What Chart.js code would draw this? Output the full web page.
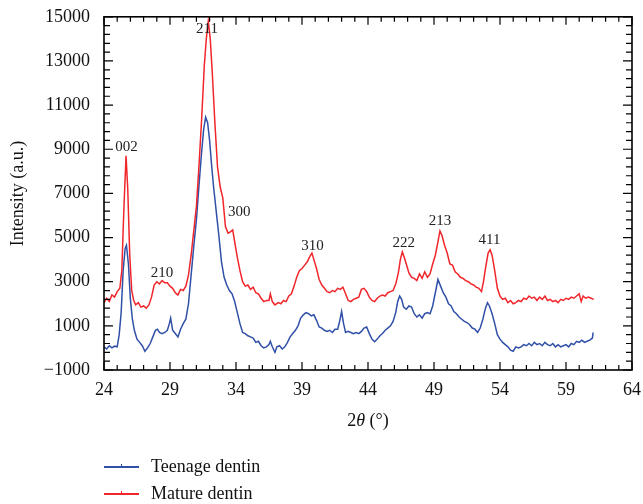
<!DOCTYPE html>
<html>
<head>
<meta charset="utf-8">
<title>XRD dentin</title>
<script src="https://cdn.jsdelivr.net/npm/chart.js@4.4.1/dist/chart.umd.min.js"></script>
<style>
  body { margin: 0; background: #fff; }
  #wrap {
    position: relative; width: 643px; height: 504px;
    font-family: "Liberation Serif", "DejaVu Serif", serif; color: #111;
  }
  #xTitle {
    position: absolute; left: 268px; width: 200px; top: 409px;
    text-align: center; font-size: 18px; line-height: 22px;
  }
  #legend { position: absolute; left: 104px; top: 453px; font-size: 18px; }
  .row { display: flex; align-items: center; height: 27px; }
  .swatch { position: relative; width: 35px; height: 0; border-top: 2.5px solid; margin-right: 12px; }
  .swatch::after {
    content: ''; position: absolute; left: 17px; top: -3.5px;
    width: 1px; height: 4px; background: inherit;
  }
</style>
</head>
<body>
<div id="wrap">
  <canvas id="xrd" width="643" height="504"></canvas>
  <div id="xTitle">2<i>θ</i> (°)</div>
  <div id="legend"></div>
</div>
<script>
// ---------- Data ----------
const SERIES_NAMES  = ['Teenage dentin', 'Mature dentin'];
const SERIES_COLORS = ['#3050a8', '#f0262b'];

const xTicks = [24, 29, 34, 39, 44, 49, 54, 59, 64];
const yTicks = [-1000, 1000, 3000, 5000, 7000, 9000, 11000, 13000, 15000];

const teenX = [
  24.0, 24.2, 24.4, 24.6, 24.8, 25.0, 25.15, 25.3, 25.45, 25.6, 25.7, 25.85, 26.0, 26.15, 26.3,
  26.5, 26.7, 26.9, 27.1, 27.3, 27.5, 27.7, 27.9, 28.05, 28.2, 28.4, 28.6, 28.8, 28.95, 29.05,
  29.2, 29.4, 29.6, 29.8, 30.0, 30.2, 30.4, 30.6, 30.8, 31.0, 31.2, 31.4, 31.55, 31.7, 31.85,
  32.0, 32.15, 32.3, 32.5, 32.7, 32.9, 33.1, 33.3, 33.5, 33.7, 33.9, 34.1, 34.3, 34.5, 34.7,
  34.9, 35.1, 35.3, 35.5, 35.7, 35.9, 36.1, 36.3, 36.5, 36.6, 36.75, 36.95, 37.1, 37.3, 37.5,
  37.7, 37.9, 38.1, 38.3, 38.5, 38.7, 38.9, 39.1, 39.3, 39.5, 39.7, 39.9, 40.1, 40.3, 40.5,
  40.7, 40.9, 41.1, 41.3, 41.5, 41.7, 41.85, 42.0, 42.15, 42.3, 42.5, 42.7, 42.9, 43.1, 43.3,
  43.5, 43.7, 43.9, 44.1, 44.3, 44.5, 44.7, 44.9, 45.1, 45.3, 45.5, 45.7, 45.9, 46.1, 46.25,
  46.4, 46.55, 46.7, 46.9, 47.1, 47.3, 47.5, 47.7, 47.9, 48.1, 48.3, 48.5, 48.7, 48.9, 49.1,
  49.3, 49.5, 49.7, 49.9, 50.1, 50.3, 50.5, 50.7, 50.9, 51.1, 51.3, 51.5, 51.7, 51.9, 52.1,
  52.3, 52.5, 52.7, 52.9, 53.05, 53.2, 53.4, 53.6, 53.8, 54.0, 54.2, 54.4, 54.6, 54.8, 55.0,
  55.2, 55.4, 55.6, 55.8, 56.0, 56.2, 56.4, 56.6, 56.8, 57.0, 57.2, 57.4, 57.6, 57.8, 58.0,
  58.2, 58.4, 58.6, 58.8, 59.0, 59.2, 59.4, 59.6, 59.8, 60.0, 60.2, 60.4, 60.6, 60.8, 61.0,
  61.05
];
const teenY = [
  50, -50, 100, 0, 80, 50, 600, 1600, 3500, 4500, 4650, 3800, 2200, 1300, 800,
  400, 250, 100, -150, 0, 200, 500, 800, 850, 700, 650, 700, 800, 1100, 1350,
  800, 650, 500, 850, 1100, 1300, 2000, 3300, 4600, 5800, 7400, 8900, 9900, 10450, 10200,
  9400, 8300, 7300, 6200, 5100, 3900, 3200, 2850, 2600, 2450, 2100, 1600, 1100, 700, 650,
  550, 500, 450, 250, 300, 100, 0, 50, 150, 300, 50, -200, 50, 100, -50,
  50, 250, 500, 650, 800, 1000, 1350, 1500, 1600, 1550, 1450, 1500, 1250, 950, 900,
  800, 750, 800, 700, 850, 850, 1200, 1650, 1100, 700, 750, 700, 650, 700, 650,
  750, 900, 950, 650, 400, 280, 400, 550, 650, 800, 900, 1000, 1200, 1600, 2100,
  2350, 2200, 1850, 1750, 1900, 1850, 1550, 1400, 1500, 1350, 1550, 1600, 1550, 1900, 2500,
  3100, 2800, 2500, 2300, 2000, 1900, 1650, 1550, 1400, 1300, 1200, 1150, 1050, 900, 850,
  700, 900, 1300, 1800, 2050, 1900, 1550, 1100, 600, 400, 250, 150, 50, -100, -150,
  50, 0, 50, 150, 100, 200, 100, 250, 150, 200, 100, 250, 150, 100, 200,
  50, 150, 50, 100, 150, 50, 200, 150, 300, 250, 350, 250, 300, 350, 450,
  700
];

const matureX = [
  24.0, 24.2, 24.4, 24.6, 24.8, 25.0, 25.2, 25.35, 25.5, 25.67, 25.8, 25.95, 26.1, 26.25, 26.4,
  26.6, 26.8, 27.0, 27.2, 27.4, 27.6, 27.8, 28.0, 28.2, 28.4, 28.6, 28.8, 29.0, 29.2, 29.4,
  29.6, 29.8, 30.0, 30.2, 30.4, 30.6, 30.8, 31.0, 31.2, 31.4, 31.6, 31.75, 31.9, 32.05, 32.2,
  32.4, 32.6, 32.8, 33.0, 33.2, 33.4, 33.55, 33.75, 33.9, 34.1, 34.3, 34.5, 34.7, 34.9, 35.1,
  35.3, 35.5, 35.7, 35.9, 36.1, 36.3, 36.5, 36.6, 36.75, 36.95, 37.2, 37.4, 37.6, 37.8, 38.0,
  38.2, 38.4, 38.6, 38.8, 39.0, 39.2, 39.4, 39.6, 39.75, 39.9, 40.1, 40.3, 40.5, 40.7, 40.9,
  41.1, 41.3, 41.5, 41.7, 41.9, 42.1, 42.3, 42.5, 42.7, 42.9, 43.1, 43.3, 43.5, 43.7, 43.9,
  44.1, 44.3, 44.5, 44.7, 44.9, 45.1, 45.3, 45.5, 45.7, 45.9, 46.1, 46.3, 46.45, 46.6, 46.75,
  46.9, 47.1, 47.3, 47.5, 47.7, 47.9, 48.1, 48.3, 48.5, 48.7, 48.9, 49.1, 49.3, 49.45, 49.6,
  49.8, 50.0, 50.2, 50.4, 50.6, 50.8, 51.0, 51.2, 51.4, 51.6, 51.8, 52.0, 52.2, 52.4, 52.6,
  52.75, 52.9, 53.1, 53.25, 53.4, 53.6, 53.8, 54.0, 54.2, 54.4, 54.6, 54.8, 55.0, 55.2, 55.4,
  55.6, 55.8, 56.0, 56.2, 56.4, 56.6, 56.8, 57.0, 57.2, 57.4, 57.6, 57.8, 58.0, 58.2, 58.4,
  58.6, 58.8, 59.0, 59.2, 59.4, 59.6, 59.8, 60.0, 60.15, 60.3, 60.5, 60.7, 60.9, 61.1
];
const matureY = [
  2050, 2250, 2100, 2400, 2300, 2550, 2700, 3500, 6200, 8700, 7200, 4200, 2600, 2150, 1950,
  2050, 1850, 1900, 1800, 1950, 2300, 2850, 3000, 2900, 3050, 2950, 2950, 2800, 2700, 2500,
  2400, 2650, 2600, 2800, 3300, 4200, 5300, 6400, 8300, 10400, 12800, 14000, 14800, 14000, 12500,
  10200, 8200, 7300, 6800, 5500, 5200, 5250, 5350, 4800, 4100, 3500, 3000, 2800, 2850, 2650,
  2750, 2500, 2450, 2250, 2100, 2150, 2150, 2450, 2100, 1950, 2050, 2000, 2150, 2100, 2350,
  2450, 2800, 3200, 3500, 3600, 3750, 3900, 4150, 4300, 4000, 3600, 3100, 2850, 2700, 2550,
  2500, 2600, 2550, 2700, 2650, 2750, 2450, 2150, 2100, 2200, 2250, 2300, 2650, 2700, 2550,
  2300, 2150, 2100, 2250, 2350, 2400, 2350, 2500, 2550, 2600, 2900, 3400, 4000, 4350, 4100,
  3800, 3400, 3200, 3150, 3050, 3350, 3150, 3450, 3200, 3350, 3800, 4200, 4800, 5300, 5100,
  4650, 4300, 3800, 3750, 3450, 3350, 3200, 3150, 3050, 3000, 2900, 2850, 2750, 2700, 2550,
  3000, 3600, 4300, 4450, 4200, 3500, 2700, 2350, 2200, 2250, 2050, 2150, 2000, 2050, 2150,
  2100, 2250, 2200, 2350, 2250, 2300, 2150, 2300, 2200, 2350, 2150, 2200, 2100, 2150, 2050,
  2200, 2150, 2250, 2200, 2300, 2250, 2350, 2450, 2100, 2350, 2250, 2300, 2250, 2200
];

// Peak (hkl) labels, anchored in data units
const peakLabels = ['002', '210', '211', '300', '310', '222', '213', '411'];
const peakX      = [25.7, 28.4, 31.8, 34.25, 39.8, 46.7, 49.45, 53.2];
const peakY      = [9100, 3400, 14450, 6150, 4600, 4750, 5750, 4900];

// ---------- Helpers ----------
const FONT = '"Liberation Serif", "DejaVu Serif", serif';

function toPoints(xs, ys) {
  return xs.map((x, i) => ({ x, y: ys[i] }));
}

function formatTick(v) {
  return v < 0 ? '\u2212' + Math.abs(v) : String(v);
}

// box frame with inward ticks on all four sides + peak labels
const frameTicks = {
  id: 'frameTicks',
  afterDatasetsDraw(chart) {
    const { ctx, chartArea: a, scales: { x, y } } = chart;
    ctx.save();
    ctx.strokeStyle = '#000';
    ctx.lineWidth = 1.6;
    ctx.strokeRect(a.left, a.top, a.right - a.left, a.bottom - a.top);

    ctx.lineWidth = 1.2;
    ctx.beginPath();
    for (let v = x.min; v <= x.max; v += 1) {
      const px = x.getPixelForValue(v);
      const len = (v - x.min) % 5 === 0 ? 8 : 5;
      ctx.moveTo(px, a.bottom); ctx.lineTo(px, a.bottom - len);
      ctx.moveTo(px, a.top);    ctx.lineTo(px, a.top + len);
    }
    for (let v = y.min; v <= y.max; v += 400) {
      const py = y.getPixelForValue(v);
      const len = (v - y.min) % 2000 === 0 ? 9 : 6;
      ctx.moveTo(a.left, py);  ctx.lineTo(a.left + len, py);
      ctx.moveTo(a.right, py); ctx.lineTo(a.right - len, py);
    }
    ctx.stroke();

    ctx.font = '15px ' + FONT;
    ctx.fillStyle = '#222';
    ctx.textAlign = 'center';
    ctx.textBaseline = 'middle';
    peakLabels.forEach((t, i) => {
      ctx.fillText(t, x.getPixelForValue(peakX[i]), y.getPixelForValue(peakY[i]));
    });
    ctx.restore();
  },
};

// ---------- Chart ----------
const ctx = document.getElementById('xrd').getContext('2d');

new Chart(ctx, {
  type: 'line',
  data: {
    datasets: [
      {
        label: SERIES_NAMES[0],
        data: toPoints(teenX, teenY),
        borderColor: SERIES_COLORS[0],
        borderWidth: 1.5,
        pointRadius: 0,
        order: 1,
      },
      {
        label: SERIES_NAMES[1],
        data: toPoints(matureX, matureY),
        borderColor: SERIES_COLORS[1],
        borderWidth: 1.5,
        pointRadius: 0,
        order: 0,
      },
    ],
  },
  options: {
    responsive: false,
    animation: false,
    devicePixelRatio: 1,
    layout: { padding: { top: 16, right: 11, left: 0, bottom: 104 } },
    plugins: {
      legend:  { display: false },
      tooltip: { enabled: false },
    },
    scales: {
      x: {
        type: 'linear',
        min: 24,
        max: 64,
        grid:   { display: false },
        border: { display: false },
        afterBuildTicks(scale) { scale.ticks = xTicks.map(v => ({ value: v })); },
        afterFit(scale) { scale.height = 30; },
        ticks: {
          padding: 1,
          maxRotation: 0,
          color: '#111',
          font: { family: FONT, size: 18 },
        },
      },
      y: {
        min: -1000,
        max: 15000,
        grid:   { display: false },
        border: { display: false },
        afterBuildTicks(scale) { scale.ticks = yTicks.map(v => ({ value: v })); },
        afterFit(scale) { scale.width = 104; },
        title: {
          display: true,
          text: 'Intensity (a.u.)',
          color: '#111',
          font: { family: FONT, size: 18 },
          padding: { top: 7, bottom: 4 },
        },
        ticks: {
          padding: 6,
          color: '#111',
          font: { family: FONT, size: 18 },
          callback: formatTick,
        },
      },
    },
  },
  plugins: [frameTicks],
});

// ---------- Legend ----------
const legendEl = document.getElementById('legend');
SERIES_NAMES.forEach((name, i) => {
  const row = document.createElement('div');
  row.className = 'row';
  row.innerHTML = `<span class="swatch" style="border-color:${SERIES_COLORS[i]};background:${SERIES_COLORS[i]}"></span>${name}`;
  legendEl.appendChild(row);
});
</script>
</body>
</html>
